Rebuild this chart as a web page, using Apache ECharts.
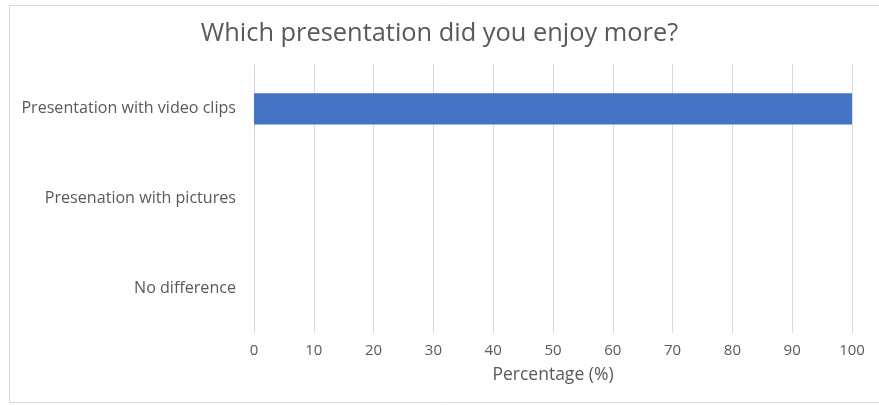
<!DOCTYPE html>
<html>
<head>
<meta charset="utf-8">
<script src="https://cdn.jsdelivr.net/npm/echarts@6/dist/echarts.min.js"></script>
<style>
  html, body { margin: 0; padding: 0; background: #ffffff; }
  #chart { width: 879px; height: 405px; }
</style>
</head>
<body>
<div id="chart"></div>
<script>
// Survey responses, listed top to bottom as shown
const categories = ['Presentation with video clips', 'Presenation with pictures', 'No difference'];
const percentages = [100, 0, 0];
const xTicks = [0, 10, 20, 30, 40, 50, 60, 70, 80, 90, 100];

const chart = echarts.init(document.getElementById('chart'), null, { renderer: 'canvas' });
const font = '"Open Sans", "Liberation Sans", sans-serif';

chart.setOption({
  animation: false,
  backgroundColor: '#ffffff',
  title: {
    text: 'Which presentation did you enjoy more?',
    left: 'center',
    top: 16,
    textStyle: { fontFamily: font, fontSize: 25.4, fontWeight: 'normal', color: '#595959' }
  },
  graphic: [{
    type: 'rect',
    shape: { x: 9.5, y: 5.5, width: 880, height: 397 },
    style: { fill: null, stroke: '#d9d9d9', lineWidth: 1 },
    silent: true
  }],
  grid: { left: 254, right: 27, top: 64, bottom: 72, containLabel: false },
  xAxis: {
    type: 'value',
    min: xTicks[0],
    max: xTicks[xTicks.length - 1],
    interval: 10,
    name: 'Percentage (%)',
    nameLocation: 'middle',
    nameGap: 33,
    nameTextStyle: { fontFamily: font, fontSize: 17.5, color: '#595959' },
    axisLine: { show: false },
    axisTick: { show: false },
    axisLabel: { fontFamily: font, fontSize: 15, color: '#595959', margin: 10 },
    splitLine: { show: true, lineStyle: { color: '#d9d9d9', width: 1 } }
  },
  yAxis: {
    type: 'category',
    data: categories,
    inverse: true,
    axisLine: { show: false },
    axisTick: { show: false },
    axisLabel: { fontFamily: font, fontSize: 16.1, color: '#595959', margin: 18 },
    splitLine: { show: false }
  },
  series: [{
    type: 'bar',
    data: percentages,
    barWidth: '35%',
    itemStyle: { color: '#4472c4' }
  }]
});
</script>
</body>
</html>
